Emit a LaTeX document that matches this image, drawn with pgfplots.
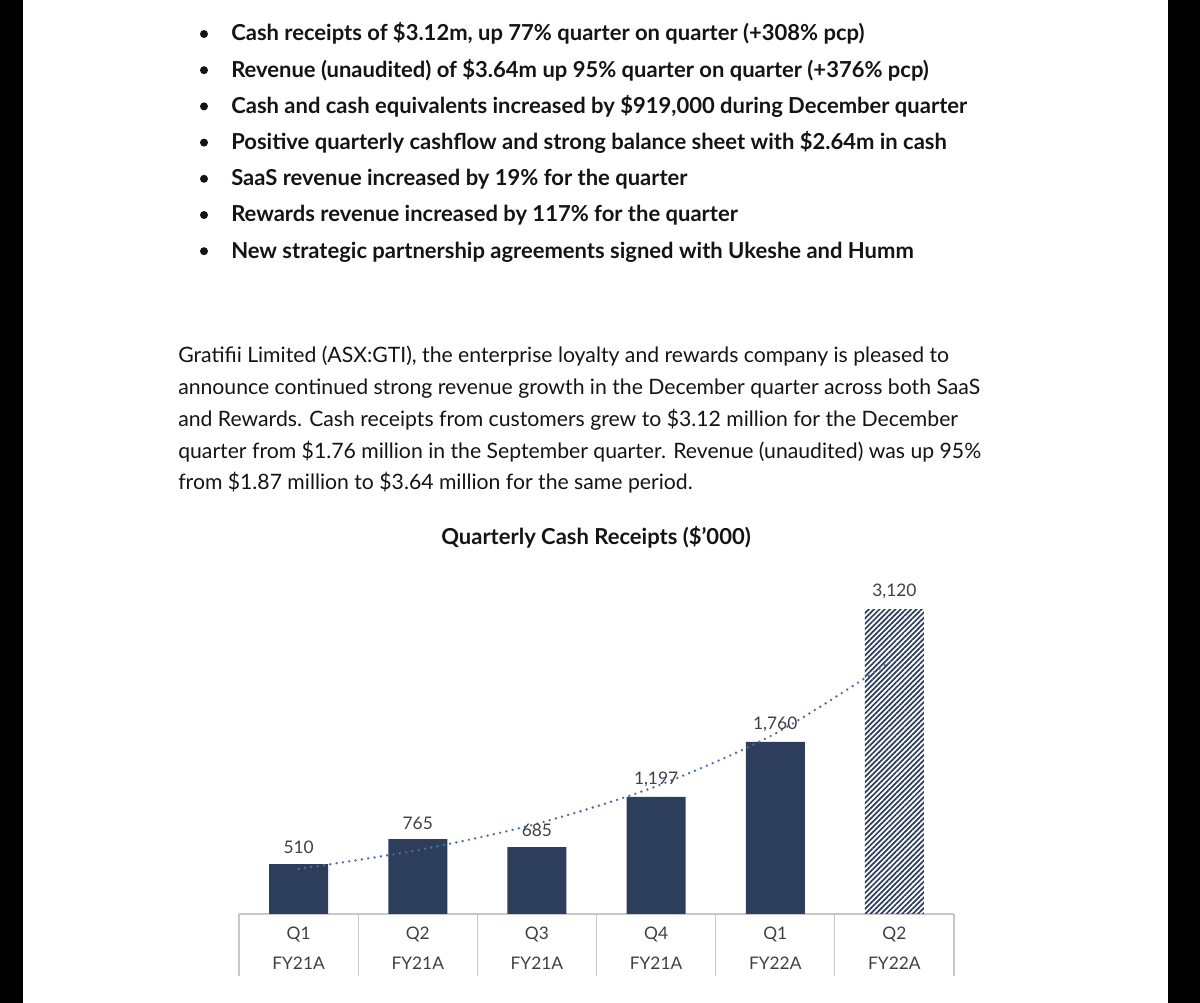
\documentclass[border=0pt]{standalone}
\usepackage{fontspec}
\setmainfont{Lato}
\usepackage{pgfplots}
\pgfplotsset{compat=1.18}
\usetikzlibrary{patterns.meta}

\definecolor{navy}{RGB}{44,62,92}
\definecolor{trend}{RGB}{74,110,170}
\definecolor{lbl}{RGB}{64,64,64}
\definecolor{gridgray}{RGB}{200,200,200}
\definecolor{bodytext}{RGB}{20,20,20}

\begin{document}
\begin{tikzpicture}
% page, in screen pixels (1 px = 0.75pt), y downwards
\begin{scope}[x=0.75pt,y=-0.75pt,shift={(0pt,752.25pt)}]
\fill[black] (0,0) rectangle (1200,1003);
\fill[white] (23,0) rectangle (1168,1003);
\foreach \i in {0,...,6} {\fill[bodytext] (204,{34+36.2*\i}) circle (4);}
\begin{scope}[every node/.style={anchor=base west, inner sep=0pt, text=bodytext, font=\fontsize{16.5}{18}\selectfont\bfseries}]
\node at (231,41) {Cash receipts of \$3.12m, up 77\% quarter on quarter (+308\% pcp)};
\node at (231,77.2) {Revenue (unaudited) of \$3.64m up 95\% quarter on quarter (+376\% pcp)};
\node at (231,113.4) {Cash and cash equivalents increased by \$919,000 during December quarter};
\node at (231,149.6) {Positive quarterly cashflow and strong balance sheet with \$2.64m in cash};
\node at (231,185.8) {SaaS revenue increased by 19\% for the quarter};
\node at (231,222) {Rewards revenue increased by 117\% for the quarter};
\node at (231,258.2) {New strategic partnership agreements signed with Ukeshe and Humm};
\end{scope}
\begin{scope}[every node/.style={anchor=base west, inner sep=0pt, text=bodytext, font=\fontsize{15.9}{18}\selectfont}]
\node at (178,363) {Gratifii Limited (ASX:GTI), the enterprise loyalty and rewards company is pleased to};
\node at (178,395) {announce continued strong revenue growth in the December quarter across both SaaS};
\node at (178,427) {and Rewards. Cash receipts from customers grew to \$3.12 million for the December};
\node at (178,458.5) {quarter from \$1.76 million in the September quarter. Revenue (unaudited) was up 95\%};
\node at (178,490) {from \$1.87 million to \$3.64 million for the same period.};
\end{scope}
\node[anchor=base, inner sep=0pt, text=bodytext, font=\fontsize{16.5}{18}\selectfont\bfseries] at (596,545) {Quarterly Cash Receipts (\$’000)};
\end{scope}

\begin{axis}[
  at={(179.25pt,66.75pt)}, anchor=south west,
  scale only axis, width=536.25pt, height=256.6pt,
  xmin=-0.5, xmax=5.5, ymin=0, ymax=3500,
  axis y line=none, axis x line=bottom,
  x axis line style={-, draw=gridgray, line width=0.8pt},
  xtick={0,...,5},
  xticklabels={{Q1\\FY21A},{Q2\\FY21A},{Q3\\FY21A},{Q4\\FY21A},{Q1\\FY22A},{Q2\\FY22A}},
  xticklabel style={align=center, text=lbl, font=\fontsize{13}{23}\selectfont, yshift=-6pt},
  major tick length=0pt,
  extra x ticks={-0.5,0.5,...,5.5},
  extra x tick labels={},
  extra x tick style={major tick length=46.5pt, tick align=outside,
    tick style={draw=gridgray, line width=0.8pt}},
  ytick=\empty,
  clip=false,
  ybar, bar width=44.25pt, bar shift=0pt,
  /pgf/number format/.cd, 1000 sep={,}, assume math mode=true,
]
\addplot[draw=none, fill=navy,
  nodes near coords,
  nodes near coords style={text=lbl, font=\fontsize{13}{15}\selectfont, anchor=south, yshift=4pt}]
  coordinates {(0,510) (1,765) (2,685) (3,1197) (4,1760)};
\addplot[draw=none, pattern={Lines[angle=45,distance=2.8pt,line width=1.3pt]}, pattern color=navy,
  nodes near coords,
  nodes near coords style={text=lbl, font=\fontsize{13}{15}\selectfont, anchor=south, yshift=4pt}]
  coordinates {(5,3120)};
% exponential trend line
\addplot[smooth, trend, line width=2pt, line cap=round, dash pattern=on 0pt off 4.8pt, no markers]
  coordinates {(0,462) (1,653) (2,924) (3,1306) (4,1846) (5,2610)};
\end{axis}
\end{tikzpicture}
\end{document}
